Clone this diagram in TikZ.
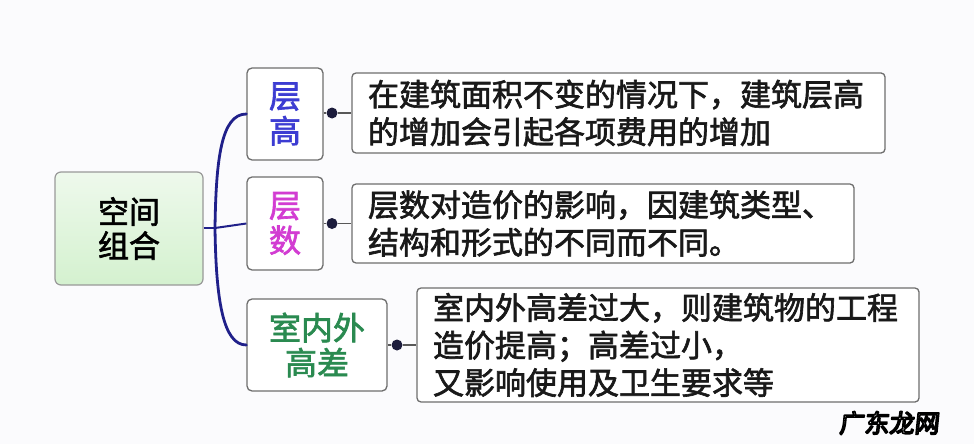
\documentclass[tikz,border=0pt]{standalone}
\usepackage{fontspec}
\newfontfamily\cjk[FakeBold=2]{Noto Sans CJK SC}
\newfontfamily\cjkwm[FakeSlant=0.1]{Noto Sans CJK SC}
\usetikzlibrary{calc}
\definecolor{bg}{HTML}{FBFBFD}
\definecolor{branch}{HTML}{20208A}
\definecolor{boxline}{HTML}{6E6E6E}
\definecolor{dotc}{HTML}{1C1C3C}
\definecolor{tblue}{HTML}{3C3CD2}
\definecolor{tmag}{HTML}{D23CD2}
\definecolor{tgreen}{HTML}{2A8A50}
\definecolor{rootlo}{HTML}{D4F1CF}
\definecolor{roothi}{HTML}{EEF9EC}
\tikzset{
  rootbox/.style={draw=boxline!70, line width=1.2pt, rounded corners=6pt,
    top color=roothi, bottom color=rootlo, align=center,
    font=\cjk\fontsize{31}{34}\selectfont, text=black, inner sep=0pt},
  childbox/.style={draw=boxline, line width=1.3pt, rounded corners=5pt,
    fill=white, align=center, font=\cjk\fontsize{32}{35}\selectfont, inner sep=0pt},
  descbox/.style={draw=boxline, line width=1.3pt, rounded corners=4pt,
    fill=white, align=left, font=\cjk\fontsize{31}{37.5}\selectfont,
    text=black!90, inner xsep=16pt, inner ysep=0pt},
  branchline/.style={draw=branch, line width=2.8pt, line cap=round},
  leafline/.style={draw=boxline!80!black, line width=1.3pt},
  knob/.style={circle, fill=dotc, minimum size=11pt, inner sep=0pt},
}
\begin{document}
\begin{tikzpicture}[x=1pt,y=-1pt]
\fill[bg] (0,0) rectangle (974,444);
\useasboundingbox (0,0) rectangle (974,444);

\node[rootbox, minimum width=148pt, minimum height=113pt] (root) at (129,228.5) {空间\\组合};

\node[childbox, minimum width=76pt, minimum height=92pt, text=tblue] (b1) at (285,114) {层\\高};
\node[childbox, minimum width=76pt, minimum height=93pt, text=tmag] (b2) at (285,223.5) {层\\数};
\node[childbox, minimum width=140pt, minimum height=92pt, text=tgreen] (b3) at (317,345) {室内外\\高差};

\node[descbox, minimum width=533pt, minimum height=80pt, text width=501pt] (d1) at (618.5,113)
  {在建筑面积不变的情况下，建筑层高\\的增加会引起各项费用的增加};
\node[descbox, minimum width=502pt, minimum height=79pt, text width=470pt] (d2) at (603,223.5)
  {层数对造价的影响，因建筑类型、\\结构和形式的不同而不同。};
\node[descbox, minimum width=502pt, minimum height=114pt, text width=470pt] (d3) at (668,345)
  {室内外高差过大，则建筑物的工程\\造价提高；高差过小，\\又影响使用及卫生要求等};

\coordinate (J) at (215,228);
\draw[draw=branch, line width=2pt] (root.east |- J) -- (J);
\draw[branchline] (J) .. controls (216,160) and (221,114) .. (b1.west);
\draw[draw=branch, line width=2pt] (J) -- (b2.west);
\draw[branchline] (J) .. controls (216,300) and (223,345) .. (b3.west);

\node[knob] (k1) at (332,113) {};
\node[knob] (k2) at (332,223.5) {};
\node[knob] (k3) at (397,345) {};
\draw[leafline] (b1.east |- k1) -- (k1) -- (d1.west |- k1);
\draw[leafline] (b2.east |- k2) -- (k2) -- (d2.west |- k2);
\draw[leafline] (b3.east |- k3) -- (k3) -- (d3.west |- k3);

\node[font=\cjkwm\fontsize{25}{25}\selectfont, text=black, inner sep=0pt] (wm) at (889,423)
  {\special{pdf:literal direct 1 Tr 1.6 w 1 j}广东龙网\special{pdf:literal direct 0 Tr}};
\end{tikzpicture}
\end{document}
